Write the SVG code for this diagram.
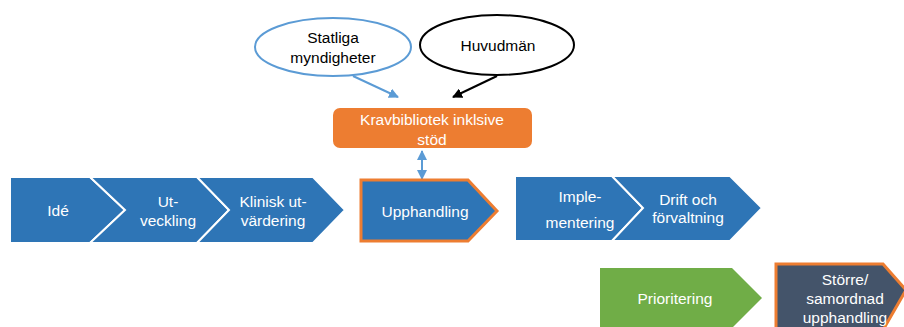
<svg xmlns="http://www.w3.org/2000/svg" width="904" height="327" viewBox="0 0 904 327">
<defs>
<style>
.t{font-family:"Liberation Sans",Arial,sans-serif;font-size:15.5px;fill:#fff;text-anchor:middle;dominant-baseline:central}
.k{font-family:"Liberation Sans",Arial,sans-serif;font-size:15.5px;fill:#000;text-anchor:middle;dominant-baseline:central}
.blue{fill:#2E75B6;stroke:#fff;stroke-width:2}
</style>
<marker id="ab" viewBox="0 0 10 10" refX="9" refY="5" markerWidth="5" markerHeight="5" orient="auto-start-reverse"><path d="M0,0L10,5L0,10z" fill="#5B9BD5"/></marker>
<marker id="ak" viewBox="0 0 10 10" refX="9" refY="5" markerWidth="5" markerHeight="5" orient="auto"><path d="M0,0L10,5L0,10z" fill="#000"/></marker>
</defs>
<rect width="904" height="327" fill="#fff"/>
<g id="connectors">
<line x1="353" y1="76" x2="398" y2="97" stroke="#5B9BD5" stroke-width="2" marker-end="url(#ab)"/>
<line x1="497" y1="76" x2="453" y2="97" stroke="#000" stroke-width="2" marker-end="url(#ak)"/>
<line x1="422" y1="151" x2="422" y2="179" stroke="#5B9BD5" stroke-width="2" marker-start="url(#ab)" marker-end="url(#ab)"/>
</g>
<g id="statliga">
<ellipse cx="333" cy="47" rx="78" ry="29" fill="#fff" stroke="#5B9BD5" stroke-width="2"/>
<text class="k" x="333" y="37">Statliga</text>
<text class="k" x="333" y="57">myndigheter</text>
</g>
<g id="huvudman">
<ellipse cx="497" cy="45" rx="77" ry="30" fill="#fff" stroke="#000" stroke-width="2"/>
<text class="k" x="498" y="45">Huvudmän</text>
</g>
<g id="krav">
<rect x="333" y="108" width="199" height="40" rx="7" fill="#ED7D31"/>
<text class="t" x="432" y="119">Kravbibliotek inklsive</text>
<text class="t" x="432" y="139">stöd</text>
</g>
<g id="ide">
<path class="blue" d="M10,177H90L125,210L90,243H10Z"/>
<text class="t" x="58" y="210">Idé</text>
</g>
<g id="utveckling">
<path class="blue" d="M90,177H197L229,210L197,243H90L125,210Z"/>
<text class="t" x="168" y="201">Ut-</text>
<text class="t" x="168" y="220">veckling</text>
</g>
<g id="klinisk">
<path class="blue" d="M197,177H313L345,210L313,243H197L229,210Z"/>
<text class="t" x="273" y="201">Klinisk ut-</text>
<text class="t" x="273" y="220">värdering</text>
</g>
<g id="upphandling">
<path d="M361,180H468L497,211L468,241H361Z" fill="#2E75B6" stroke="#ED7D31" stroke-width="3"/>
<text class="t" x="425" y="211">Upphandling</text>
</g>
<g id="implementering">
<path class="blue" d="M515,176H612L643,208L612,241H515Z"/>
<text class="t" x="580" y="196">Imple-</text>
<text class="t" x="580" y="222">mentering</text>
</g>
<g id="drift">
<path class="blue" d="M612,176H730L762,208L730,241H612L643,208Z"/>
<text class="t" x="688" y="199">Drift och</text>
<text class="t" x="688" y="217">förvaltning</text>
</g>
<g id="prioritering">
<path d="M600,268H732L762,298L732,328H600Z" fill="#70AD47"/>
<text class="t" x="675" y="298">Prioritering</text>
</g>
<g id="storre">
<path d="M776,264H883L906,290L883,330H776Z" fill="#44546A" stroke="#ED7D31" stroke-width="3"/>
<text class="t" x="845" y="279">Större/</text>
<text class="t" x="845" y="298">samordnad</text>
<text class="t" x="845" y="317">upphandling</text>
</g>
</svg>
